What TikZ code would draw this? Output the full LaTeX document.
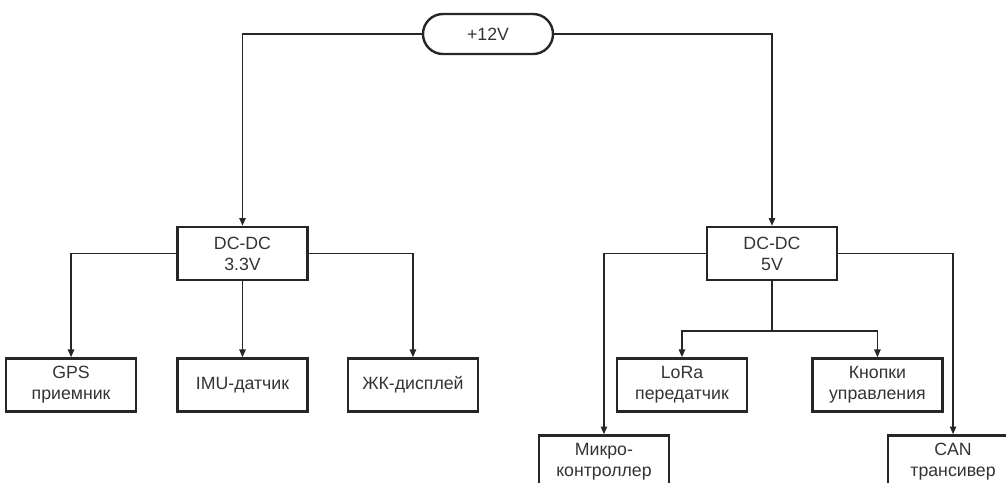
\documentclass[tikz,border=0pt]{standalone}
\usepackage{fontspec}
\setmainfont{Liberation Sans}
\usetikzlibrary{positioning, arrows.meta}

\begin{document}
\begin{tikzpicture}[x=0.025cm, y=-0.025cm,
        box/.style={rectangle, draw=black!85, line width=1.7pt, minimum width=3.25cm, minimum height=1.325cm, align=center, inner sep=1pt, text=black!80, font=\fontsize{12.6}{14.8}\selectfont},
        source/.style={rectangle, draw=black!85, rounded corners=0.5cm, line width=1.7pt, minimum width=3.25cm, minimum height=1cm, text=black!80, font=\fontsize{12.6}{14.8}\selectfont},
        arrow/.style={-{Triangle[length=5.5pt, width=4.5pt]}, line width=1.1pt, draw=black!85},
        wire/.style={line width=1.1pt, draw=black!85},
        node distance=1.9cm and 0.975cm
    ]
    \useasboundingbox (0,0) rectangle (1006,482);

    % Power input
    \node[source] (supply) at (488,34) {+12V};

    % Converters
    \node[box] (dcl) at (242.5,253.5) {DC-DC\\3.3V};
    \node[box] (dcr) at (772,253.5) {DC-DC\\5V};

    % Loads on 3.3V
    \node[box, below=of dcl] (imu) {IMU-датчик};
    \node[box, left=of imu] (gps) {GPS\\приемник};
    \node[box, right=0.95cm of imu] (lcd) {ЖК-дисплей};

    % Loads on 5V
    \node[box, below=of dcr, xshift=-2.25cm] (lora) {LoRa\\передатчик};
    \node[box, right=1.575cm of lora] (buttons) {Кнопки\\управления};
    \node[box, below=3.825cm of dcr, xshift=-4.2cm] (mcu) {Микро-\\контроллер};
    \node[box, below=3.825cm of dcr, xshift=4.525cm] (can) {CAN\\трансивер};

    % Supply to converters
    \draw[arrow] (supply.west) -| (dcl.north);
    \draw[arrow] (supply.east) -| (dcr.north);

    % 3.3V branch
    \draw[arrow] (dcl.west) -| (gps.north);
    \draw[arrow] (dcl.south) -- (imu.north);
    \draw[arrow] (dcl.east) -| (lcd.north);

    % 5V branch
    \coordinate (split) at (772,331);
    \draw[wire] (dcr.south) -- (split);
    \draw[arrow] (split) -| (lora.north);
    \draw[arrow] (split) -| (buttons.north);
    \draw[arrow] (dcr.west) -| (mcu.north);
    \draw[arrow] (dcr.east) -| (can.north);

\end{tikzpicture}
\end{document}
